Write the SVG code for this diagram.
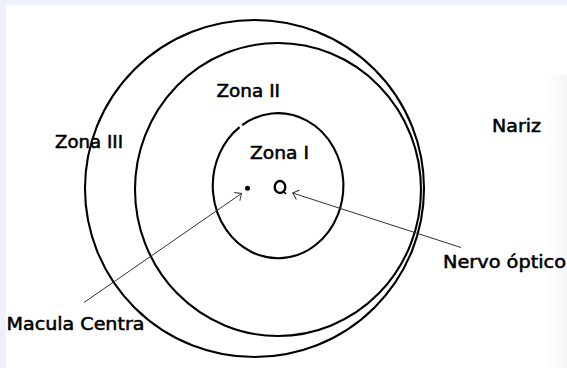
<svg xmlns="http://www.w3.org/2000/svg" width="567" height="368" viewBox="0 0 567 368">
  <defs>
    <style>
      .ring { fill: none; stroke: #000; stroke-width: 2.1; }
      .lbl { font-family: "DejaVu Sans", "Liberation Sans", sans-serif; font-size: 18px; fill: #000; stroke: #000; stroke-width: 0.55; }
      .ptr { fill: none; stroke: #333; stroke-width: 1; }
    </style>
    <linearGradient id="edge" x1="0" y1="0" x2="1" y2="0">
      <stop offset="0" stop-color="#ffffff"/>
      <stop offset="1" stop-color="#f5f5f8"/>
    </linearGradient>
    <marker id="open" viewBox="-8 -8 10 16" markerWidth="10" markerHeight="16" refX="0" refY="0" orient="auto" markerUnits="userSpaceOnUse">
      <path d="M -5.5,-5 L 0,0 L -5.5,5" fill="none" stroke="#333" stroke-width="1"/>
    </marker>
  </defs>

  <rect x="0" y="0" width="567" height="368" fill="#eef1f9"/>
  <rect x="6" y="5" width="561" height="363" fill="#ffffff"/>
  <rect x="545" y="75" width="22" height="293" fill="url(#edge)"/>

  <g id="zona-iii-ring">
    <ellipse class="ring" cx="254.5" cy="188.5" rx="169.5" ry="168.5"/>
  </g>
  <g id="zona-ii-ring">
    <ellipse class="ring" cx="278" cy="189.5" rx="143" ry="146.5"/>
  </g>
  <g id="zona-i-ring">
    <path class="ring" d="M 242.2,125.1 A 65.3 72.5 0 1 1 239.6,127.1"/>
  </g>
  <g id="macula">
    <circle cx="247.5" cy="188.3" r="2.5" fill="#000"/>
  </g>
  <g id="nervo">
    <ellipse cx="280" cy="187" rx="5.3" ry="6" fill="none" stroke="#000" stroke-width="2.4"/>
    <path d="M 283.5,191.5 L 286,194" stroke="#000" stroke-width="1.6"/>
  </g>

  <g id="connectors">
    <line class="ptr" x1="84" y1="302.5" x2="241.5" y2="193.5" marker-end="url(#open)"/>
    <line class="ptr" x1="461" y1="247.5" x2="292.7" y2="193" marker-end="url(#open)"/>
  </g>

  <g id="label-zona-iii"><text class="lbl" x="55" y="148" textLength="68" lengthAdjust="spacingAndGlyphs">Zona III</text></g>
  <g id="label-zona-ii"><text class="lbl" x="216.5" y="97" textLength="63.5" lengthAdjust="spacingAndGlyphs">Zona II</text></g>
  <g id="label-zona-i"><text class="lbl" x="250" y="159" textLength="59" lengthAdjust="spacingAndGlyphs">Zona I</text></g>
  <g id="label-nariz"><text class="lbl" x="492" y="132" textLength="49" lengthAdjust="spacingAndGlyphs">Nariz</text></g>
  <g id="label-nervo"><text class="lbl" x="443" y="268" textLength="123" lengthAdjust="spacingAndGlyphs">Nervo óptico</text></g>
  <g id="label-macula"><text class="lbl" x="6.5" y="330" textLength="138" lengthAdjust="spacingAndGlyphs">Macula Centra</text></g>
</svg>
